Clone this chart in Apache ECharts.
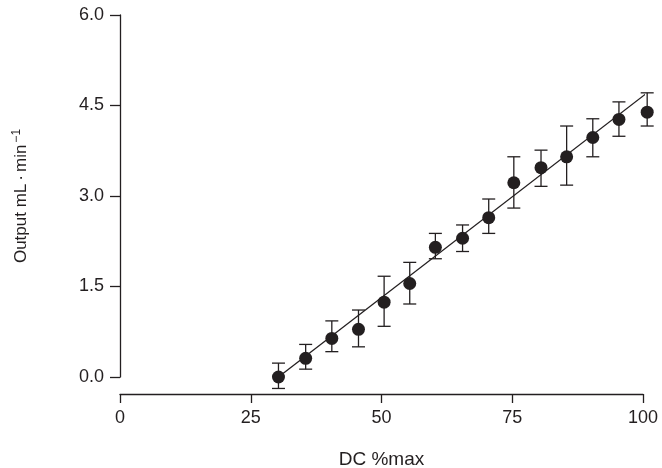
<!DOCTYPE html>
<html>
<head>
<meta charset="utf-8">
<script src="https://cdn.jsdelivr.net/npm/echarts@6/dist/echarts.min.js"></script>
<style>html,body{margin:0;padding:0;background:#fff}#c{width:662px;height:468px}</style>
</head>
<body>
<div id="c"></div>
<script>
var xValues = [30.3, 35.5, 40.5, 45.6, 50.5, 55.4, 60.3, 65.5, 70.5, 75.3, 80.5, 85.4, 90.4, 95.4, 100.8];
var yValues = [0.00, 0.31, 0.64, 0.79, 1.24, 1.55, 2.15, 2.30, 2.64, 3.22, 3.47, 3.65, 3.97, 4.27, 4.39];
var errUpper = [0.23, 0.54, 0.93, 1.11, 1.67, 1.90, 2.38, 2.52, 2.95, 3.65, 3.76, 4.16, 4.28, 4.56, 4.71];
var errLower = [-0.19, 0.13, 0.42, 0.50, 0.84, 1.21, 1.96, 2.08, 2.38, 2.80, 3.16, 3.18, 3.65, 3.99, 4.16];
var fitX = [30.3, 100.8];
var fitY = [0.00, 4.71];
var xTicks = [0, 25, 50, 75, 100];
var yTicks = [0, 1.5, 3.0, 4.5, 6.0];

var ink = '#231f20';
var font = 'Liberation Sans, Arial, Helvetica, sans-serif';

var points = xValues.map(function (x, i) { return [x, yValues[i]]; });
var errData = xValues.map(function (x, i) { return [x, errLower[i], errUpper[i]]; });
var fitData = fitX.map(function (x, i) { return [x, fitY[i]]; });

var chart = echarts.init(document.getElementById('c'), null, {renderer: 'canvas'});
chart.setOption({
  animation: false,
  backgroundColor: '#fff',
  grid: {left: 120, right: 19, top: 15, bottom: 91, containLabel: false, outerBoundsMode: 'none'},
  xAxis: {
    type: 'value', min: xTicks[0], max: xTicks[xTicks.length - 1], interval: 25,
    offset: 17,
    name: 'DC %max', nameLocation: 'middle', nameGap: 56,
    nameTextStyle: {color: ink, fontSize: 19, fontFamily: font},
    axisLine: {show: true, onZero: false, lineStyle: {color: ink, width: 1.3}},
    axisTick: {show: true, length: 9, lineStyle: {color: ink, width: 1.3}},
    axisLabel: {color: ink, fontSize: 18, fontFamily: font, margin: 15},
    splitLine: {show: false}
  },
  yAxis: {
    type: 'value', min: yTicks[0], max: yTicks[yTicks.length - 1], interval: 1.5,
    name: '{a|Output mL}{d|·}{a|min}{s|−1}', nameLocation: 'middle', nameGap: 88, nameRotate: 90,
    nameTextStyle: {
      color: ink, fontFamily: font,
      rich: {
        a: {fontSize: 17, fontFamily: font, color: ink},
        d: {fontSize: 17, fontFamily: font, color: ink, padding: [0, 3, 0, 3]},
        s: {fontSize: 12, fontFamily: font, color: ink, verticalAlign: 'top', padding: [0, 0, 9, 2]}
      }
    },
    axisLine: {show: true, lineStyle: {color: ink, width: 1.3}},
    axisTick: {show: true, length: 10, lineStyle: {color: ink, width: 1.3}},
    axisLabel: {color: ink, fontSize: 18, fontFamily: font, margin: 16,
      formatter: function (v) { return v.toFixed(1); }},
    splitLine: {show: false}
  },
  series: [
    {
      type: 'line', data: fitData, symbol: 'none', clip: false,
      lineStyle: {color: ink, width: 1.3}, z: 2
    },
    {
      type: 'custom', data: errData, z: 3, clip: false,
      renderItem: function (params, api) {
        var x = api.value(0);
        var lo = api.coord([x, api.value(1)]);
        var hi = api.coord([x, api.value(2)]);
        var hw = 6.5;
        var st = {stroke: ink, lineWidth: 1.3};
        return {
          type: 'group',
          children: [
            {type: 'line', shape: {x1: lo[0], y1: lo[1], x2: hi[0], y2: hi[1]}, style: st},
            {type: 'line', shape: {x1: hi[0] - hw, y1: hi[1], x2: hi[0] + hw, y2: hi[1]}, style: st},
            {type: 'line', shape: {x1: lo[0] - hw, y1: lo[1], x2: lo[0] + hw, y2: lo[1]}, style: st}
          ]
        };
      }
    },
    {
      type: 'scatter', data: points, symbol: 'circle', symbolSize: 13, clip: false,
      itemStyle: {color: ink, opacity: 1}, z: 4
    }
  ]
});
</script>
</body>
</html>
